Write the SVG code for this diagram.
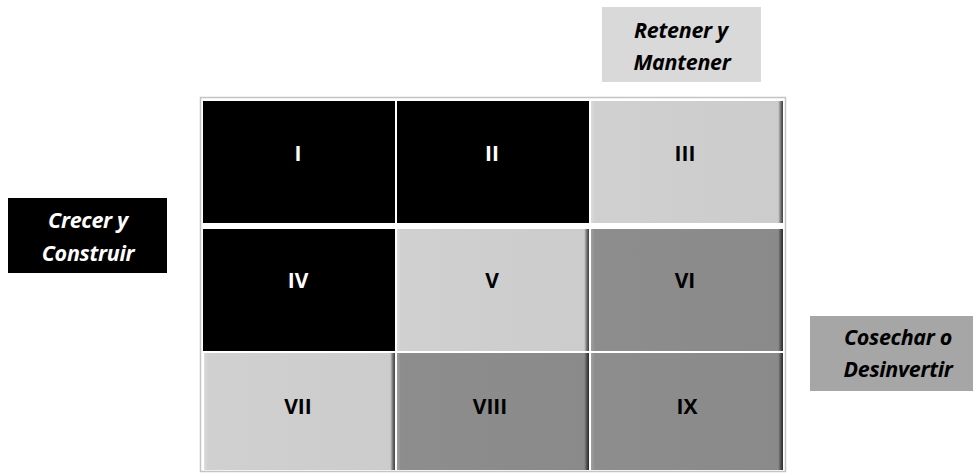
<svg xmlns="http://www.w3.org/2000/svg" width="974" height="473" viewBox="0 0 974 473">
  <style>
    .lbl { font-family: "Open Sans", "Liberation Sans", sans-serif; font-weight: bold; font-style: italic; font-size: 21.5px; text-anchor: middle; letter-spacing: -0.3px; }
    .num { font-family: "Open Sans", "Liberation Sans", sans-serif; font-weight: bold; font-size: 21px; text-anchor: middle; }
    .onDark { fill: #ffffff; }
    .onLight { fill: #000000; }
  </style>
  <defs>
    <linearGradient id="gLight" x1="0" y1="0" x2="1" y2="0">
      <stop offset="0" stop-color="#dcdcdc"/>
      <stop offset="0.02" stop-color="#d0d0d0"/>
      <stop offset="0.975" stop-color="#cccccc"/>
      <stop offset="0.99" stop-color="#6a6a6a"/>
      <stop offset="1" stop-color="#404040"/>
    </linearGradient>
    <linearGradient id="gMid" x1="0" y1="0" x2="1" y2="0">
      <stop offset="0" stop-color="#a0a0a0"/>
      <stop offset="0.02" stop-color="#8d8d8d"/>
      <stop offset="0.975" stop-color="#8a8a8a"/>
      <stop offset="0.99" stop-color="#4a4a4a"/>
      <stop offset="1" stop-color="#2a2a2a"/>
    </linearGradient>
  </defs>
  <rect width="974" height="473" fill="#ffffff"/>

  <rect x="200.5" y="97.5" width="585" height="374" fill="#ffffff" stroke="#c4c4c4" stroke-width="1.5"/>

  <g id="cell-I"><rect x="203" y="101" width="192" height="122" fill="#000000"/><text class="num onDark" x="298" y="161">I</text></g>
  <g id="cell-II"><rect x="397" y="101" width="192" height="122" fill="#000000"/><text class="num onDark" x="492" y="161">II</text></g>
  <g id="cell-III"><rect x="591" y="101" width="192" height="122" fill="url(#gLight)"/><text class="num onLight" x="685" y="161">III</text></g>

  <g id="cell-IV"><rect x="203" y="229" width="192" height="122" fill="#000000"/><text class="num onDark" x="298" y="288">IV</text></g>
  <g id="cell-V"><rect x="397" y="229" width="192" height="122" fill="url(#gLight)"/><text class="num onLight" x="492" y="288">V</text></g>
  <g id="cell-VI"><rect x="591" y="229" width="192" height="122" fill="url(#gMid)"/><text class="num onLight" x="685" y="288">VI</text></g>

  <g id="cell-VII"><rect x="204" y="353" width="191" height="117" fill="url(#gLight)"/><text class="num onLight" x="298" y="414">VII</text></g>
  <g id="cell-VIII"><rect x="397" y="353" width="192" height="117" fill="url(#gMid)"/><text class="num onLight" x="490" y="414">VIII</text></g>
  <g id="cell-IX"><rect x="591" y="353" width="192" height="117" fill="url(#gMid)"/><text class="num onLight" x="687" y="414">IX</text></g>

  <g id="label-retener">
    <rect x="602" y="7" width="159" height="75" fill="#d9d9d9"/>
    <text class="lbl onLight" x="681" y="38">Retener y</text>
    <text class="lbl onLight" x="682" y="70">Mantener</text>
  </g>
  <g id="label-crecer">
    <rect x="8" y="198" width="159" height="75" fill="#000000"/>
    <text class="lbl onDark" x="88" y="228">Crecer y</text>
    <text class="lbl onDark" x="88" y="261">Construir</text>
  </g>
  <g id="label-cosechar">
    <rect x="810" y="316" width="163" height="75" fill="#a6a6a6"/>
    <text class="lbl onLight" x="898" y="345">Cosechar o</text>
    <text class="lbl onLight" x="898" y="377">Desinvertir</text>
  </g>

  <g id="connectors"></g>
</svg>
